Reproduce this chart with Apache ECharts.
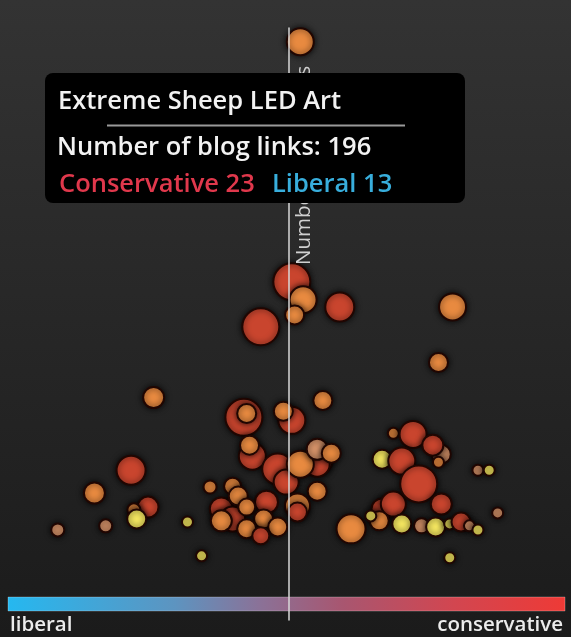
<!DOCTYPE html>
<html>
<head>
<meta charset="utf-8">
<script src="https://cdn.jsdelivr.net/npm/echarts@6/dist/echarts.min.js"></script>
<style>
html,body{margin:0;padding:0;background:#222;}
#chart{width:571px;height:637px;}
</style>
</head>
<body>
<div id="chart"></div>
<script>
// political lean of linking blogs (-1 liberal .. +1 conservative)
const lean = [0.04,0.01,0.05,0.02,0.18,-0.10,0.58,0.53,-0.48,0.12,
  -0.16,-0.15,0.01,-0.02,-0.13,-0.14,-0.56,-0.69,-0.28,-0.50,
  -0.55,-0.54,-0.36,-0.31,-0.82,-0.65,-0.04,-0.01,0.11,0.10,
  0.04,0.10,0.15,0.10,0.03,0.03,-0.24,-0.20,-0.08,-0.20,
  -0.18,-0.15,-0.24,-0.09,-0.15,-0.04,-0.10,0.22,0.33,0.37,
  0.32,0.29,0.33,0.37,0.44,0.40,0.54,0.51,0.53,0.46,
  0.54,0.40,0.47,0.52,0.57,0.61,0.64,0.67,0.67,0.71,
  0.74,0.57];
// number of blog links
const links = [195,107.8,101.3,95.8,98.7,91.5,98.7,78.5,65.8,64.7,
  58.6,60.0,57.5,60.8,44.5,48.5,39.4,31.1,33.3,26.0,
  25.0,21.7,20.6,8.3,17.7,19.2,39.8,35.1,42.7,41.6,
  41.6,47.0,45.6,31.8,26.4,24.2,25.3,21.7,27.8,33.6,
  30.0,26.0,21.0,21.7,18.1,18.8,15.6,18.1,25.3,27.1,
  21.0,22.8,43.4,52.8,52.4,42.7,45.2,48.5,42.3,34.4,
  27.1,19.9,19.2,18.8,19.9,20.6,19.2,17.7,39.4,39.4,
  23.9,7.6];
// story weight (bubble size)
const weight = [13,18,13,9,14,18,13,9,10,9,
  18,9,13,9,13,9,14,10,6,10,
  6,9,5,5,6,6,15,12,12,12,
  13,10,9,9,12,9,11,12,11,8,
  9,8,10,9,9,9,8,14,10,12,
  9,5,9,5,13,13,9,10,5,18,
  10,9,7,9,5,9,5,5,5,5,
  5,5];
// tone category: 0 red, 1 orange, 2 tan, 3 yellow
const tone = [1,0,1,1,0,0,1,1,1,1,
  0,1,0,1,0,1,0,1,1,0,
  1,3,3,3,2,2,0,0,0,0,
  1,2,1,1,1,0,0,0,0,1,
  1,1,1,1,1,1,0,1,0,0,
  1,3,3,1,0,0,2,0,1,0,
  0,3,2,3,3,0,2,3,2,3,
  2,3];
const toneColors = ['#c9452e','#e88a40','#d8946a','#f4e660'];

const data = lean.map((x,i)=>[x, links[i], weight[i], tone[i]]);

const chart = echarts.init(document.getElementById('chart'));
const FONT = '"Open Sans"';
chart.setOption({
  backgroundColor: {type:'linear',x:0,y:0,x2:0,y2:1,colorStops:[{offset:0,color:'#333333'},{offset:1,color:'#1b1b1b'}]},
  animation:false,
  grid:{left:7,right:0,top:28,bottom:17},
  xAxis:{type:'value',min:-1,max:1,axisLine:{show:false},axisTick:{show:false},axisLabel:{show:false},splitLine:{show:false}},
  yAxis:{type:'value',min:-15,max:200,z:5,
    axisLine:{show:true,onZero:true,lineStyle:{color:'#d8d8d8',width:1.5}},
    axisTick:{show:false},axisLabel:{show:false},splitLine:{show:false}},
  series:[{
    type:'scatter',
    data:data,
    symbolSize:(v)=>v[2]*2+1,
    itemStyle:{
      color:(p)=>toneColors[p.data[3]],
      borderColor:'#200602',borderWidth:2,
      shadowBlur:6,shadowColor:'rgba(0,0,0,0.8)',opacity:1
    }
  }],
  graphic:[
    {type:'rect',z:1,shape:{x:8,y:597,width:557,height:14},
      style:{fill:{type:'linear',x:0,y:0,x2:1,y2:0,colorStops:[
        {offset:0,color:'#25b8f0'},{offset:0.3,color:'#5d94c0'},{offset:0.45,color:'#8a7298'},
        {offset:0.6,color:'#a85670'},{offset:0.8,color:'#d24650'},{offset:1,color:'#ee3a36'}]},
        stroke:'rgba(255,255,255,0.25)',lineWidth:1}},
    {type:'text',z:1,x:10,y:625,style:{text:'liberal',fill:'#ececec',font:'600 20.5px '+FONT,textVerticalAlign:'middle'}},
    {type:'text',z:1,x:563,y:625,style:{text:'conservative',fill:'#ececec',font:'600 20.5px '+FONT,textAlign:'right',textVerticalAlign:'middle'}},
    {type:'text',z:20,x:315,y:265,rotation:Math.PI/2,
      style:{text:'Number of blog links',fill:'#d0d0d0',font:'20.5px '+FONT,textAlign:'left',textVerticalAlign:'bottom'}},
    {type:'group',z:100,children:[
      {type:'rect',z:100,shape:{x:45,y:73,width:420,height:130,r:8},style:{fill:'#000'}},
      {type:'text',z:101,x:58,y:102,style:{text:'Extreme Sheep LED Art',fill:'#f2f2f2',font:'600 25.5px '+FONT,textVerticalAlign:'middle'}},
      {type:'line',z:101,shape:{x1:107,y1:125.5,x2:405,y2:125.5},style:{stroke:'#9a9a9a',lineWidth:2}},
      {type:'text',z:101,x:57,y:148,style:{text:'Number of blog links: 196',fill:'#f2f2f2',font:'600 25.5px '+FONT,textVerticalAlign:'middle'}},
      {type:'text',z:101,x:59,y:185,style:{text:'Conservative 23',fill:'#e0384c',font:'600 25.5px '+FONT,textVerticalAlign:'middle'}},
      {type:'text',z:101,x:272,y:185,style:{text:'Liberal 13',fill:'#38aedc',font:'600 25.5px '+FONT,textVerticalAlign:'middle'}}
    ]}
  ]
});
</script>
</body>
</html>
